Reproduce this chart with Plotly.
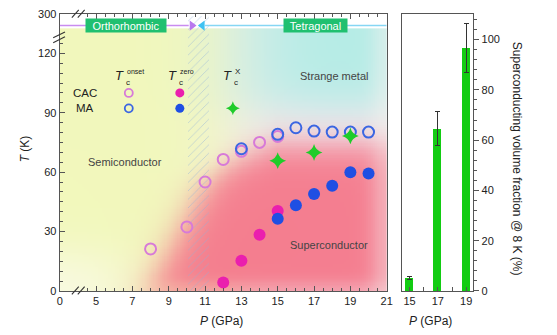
import numpy as np
import plotly.graph_objects as go

W, H = 557, 335

# ---------------- data ----------------
# CAC: onset (open) and zero-resistance (filled) Tc
p_onset_cac = [8, 10, 11, 12, 13, 14, 15]
t_onset_cac = [21.2, 32.3, 55.0, 66.4, 70.5, 75.0, 78.0]
p_zero_cac = [12, 13, 14, 15]
t_zero_cac = [4.3, 15.2, 28.4, 40.4]
# MA: onset (open) and zero-resistance (filled) Tc
p_onset_ma = [13, 15, 16, 17, 18, 19, 20]
t_onset_ma = [71.8, 79.1, 82.4, 80.7, 80.2, 80.2, 80.2]
p_zero_ma = [15, 16, 17, 18, 19, 20]
t_zero_ma = [36.5, 43.3, 49.0, 53.1, 59.9, 59.3]
# Tc^X
p_tcx = [15, 17, 19]
t_tcx = [65.8, 69.9, 78.3]

# superconducting volume fraction at 8 K
p_frac = [15, 17, 19]
frac = [5.2, 64.6, 96.8]
frac_err = [0.6, 6.6, 9.8]

# axis tick labels (the lowest P and highest T are broken-axis labels)
x_tickvals = [3, 5, 7, 9, 11, 13, 15, 17, 19, 21]
x_ticktext = ["0", "5", "7", "9", "11", "13", "15", "17", "19", "21"]
y_tickvals = [0, 30, 60, 90, 120, 140]
y_ticktext = ["0", "30", "60", "90", "120", "300"]
frac_tickvals = [0, 20, 40, 60, 80, 100]

# colours
C_ONSET_CAC = "#d77ad8"
C_ONSET_MA = "#3b66e2"
C_ZERO_CAC = "#ea1fae"
C_ZERO_MA = "#1f4fe3"
C_X = "#1fcc2a"
C_BAR = "#12cc12"
C_LABEL = "#20c070"
AX = "#555555"

P0, P1, T0, T1 = 3.0, 21.0, 0.0, 140.0


def paper(x, y):
    return x / W, 1 - y / H


# ---------------- phase-diagram background ----------------
nP, nT = 150, 112
Pg = np.linspace(P0, P1, nP)
Tg = np.linspace(0, 132, nT)
PP, TT = np.meshgrid(Pg, Tg)


def sig(z):
    return 1 / (1 + np.exp(-z))


yellow = np.array([242, 248, 188.0])
pale = np.array([251, 251, 236.0])
lav = np.array([242, 236, 242.0])
teal = np.array([170, 236, 228.0])
red = np.array([245, 122, 140.0])

w_y = sig((12.5 - PP) / 1.2)
base = w_y[..., None] * yellow + (1 - w_y[..., None]) * lav
w_pale = 0.85 * sig((18 - TT) / 7) * sig((6.5 - PP) / 1.3) + 0.35 * sig((PP - 20.2) / 0.35)
base = base * (1 - w_pale[..., None]) + pale * w_pale[..., None]

a_t = 0.85 * sig((TT - 92) / 6.5) * sig((PP - 13.4) / 1.4) * (1 - 0.55 * sig((PP - 20.3) / 0.3))
img = base * (1 - a_t[..., None]) + teal * a_t[..., None]

edge = 7.9 + 0.058 * TT
top = 60 + 14 * np.clip((PP - 11) / 4, 0, 1)
a_r = 0.96 * sig((PP - edge) / 0.6) * sig((top - TT) / 5)
a_r *= (1 - 0.45 * sig((PP - 20.3) / 0.3)) * (1 - 0.35 * sig((4 - TT) / 2))
img = img * (1 - a_r[..., None]) + red * a_r[..., None]
img = np.clip(img, 0, 255).astype(np.uint8)

dP = Pg[1] - Pg[0]
dT = Tg[1] - Tg[0]

fig = go.Figure()

fig.add_trace(go.Image(z=img, x0=P0, dx=dP, y0=0, dy=dT, zsmooth="fast",
                       hoverinfo="skip", xaxis="x", yaxis="y"))

# hatched structural-transition window
fig.add_trace(go.Bar(x=[10.63], y=[139], base=[0], width=[1.15],
                     marker=dict(color="rgba(0,0,0,0)", line=dict(width=0),
                                 pattern=dict(shape="/", fgcolor="#8fb2da",
                                              bgcolor="rgba(0,0,0,0)",
                                              size=6, solidity=0.14)),
                     hoverinfo="skip", showlegend=False, xaxis="x", yaxis="y"))

# phase line arrows at the top of the diagram
fig.add_trace(go.Scatter(x=[10.28], y=[134], mode="markers",
                         marker=dict(symbol="triangle-right", size=9, color="#b978ee"),
                         hoverinfo="skip", showlegend=False))
fig.add_trace(go.Scatter(x=[10.85], y=[134], mode="markers",
                         marker=dict(symbol="triangle-left", size=9, color="#3fc2f2"),
                         hoverinfo="skip", showlegend=False))

# data markers
fig.add_trace(go.Scatter(x=p_onset_cac, y=t_onset_cac, mode="markers",
                         marker=dict(symbol="circle-open", size=11, color=C_ONSET_CAC,
                                     line=dict(width=2)), showlegend=False))
fig.add_trace(go.Scatter(x=p_zero_cac, y=t_zero_cac, mode="markers",
                         marker=dict(symbol="circle", size=12, color=C_ZERO_CAC),
                         showlegend=False))
fig.add_trace(go.Scatter(x=p_onset_ma, y=t_onset_ma, mode="markers",
                         marker=dict(symbol="circle-open", size=11, color=C_ONSET_MA,
                                     line=dict(width=2)), showlegend=False))
fig.add_trace(go.Scatter(x=p_zero_ma, y=t_zero_ma, mode="markers",
                         marker=dict(symbol="circle", size=12, color=C_ZERO_MA),
                         showlegend=False))
fig.add_trace(go.Scatter(x=p_tcx, y=t_tcx, mode="markers",
                         marker=dict(symbol="star-diamond", size=12, color=C_X),
                         showlegend=False))

# in-plot key
key_p = [6.8, 9.61, 12.53]
key_t = [100.0, 92.2]
fig.add_trace(go.Scatter(x=[key_p[0]], y=[key_t[0]], mode="markers",
                         marker=dict(symbol="circle-open", size=8, color=C_ONSET_CAC,
                                     line=dict(width=1.8)), showlegend=False))
fig.add_trace(go.Scatter(x=[key_p[0]], y=[key_t[1]], mode="markers",
                         marker=dict(symbol="circle-open", size=8, color=C_ONSET_MA,
                                     line=dict(width=1.8)), showlegend=False))
fig.add_trace(go.Scatter(x=[key_p[1]], y=[key_t[0]], mode="markers",
                         marker=dict(symbol="circle", size=9, color=C_ZERO_CAC),
                         showlegend=False))
fig.add_trace(go.Scatter(x=[key_p[1]], y=[key_t[1]], mode="markers",
                         marker=dict(symbol="circle", size=9, color=C_ZERO_MA),
                         showlegend=False))
fig.add_trace(go.Scatter(x=[key_p[2]], y=[key_t[1]], mode="markers",
                         marker=dict(symbol="star-diamond", size=10, color=C_X),
                         showlegend=False))

# volume fraction bars
fig.add_trace(go.Bar(x=p_frac, y=frac, width=0.56, marker=dict(color=C_BAR, line=dict(width=0)),
                     error_y=dict(type="data", array=frac_err, color="#333333",
                                  thickness=1, width=2.5),
                     showlegend=False, xaxis="x2", yaxis="y2"))

font = dict(family="Liberation Sans, Arial, sans-serif", size=11, color="#222222")
ydom = [(H - 295.5) / H, (H - 8) / H]

fig.update_layout(
    width=W, height=H, margin=dict(l=0, r=0, t=0, b=0),
    paper_bgcolor="white", plot_bgcolor="white", font=font,
    bargap=0,
    xaxis=dict(domain=[57.7 / W, 390 / W], range=[P0, P1], anchor="y",
               tickmode="array", tickvals=x_tickvals, ticktext=x_ticktext,
               ticks="inside", ticklen=5, tickcolor=AX, tickwidth=1,
               minor=dict(tickmode="array", tickvals=list(np.arange(4.5, 21, 0.5)),
                          ticks="inside", ticklen=3, tickcolor=AX),
               showline=True, linecolor=AX, linewidth=1.2, mirror="ticks",
               showgrid=False, zeroline=False),
    yaxis=dict(domain=ydom, range=[T0, T1], anchor="x", scaleanchor=False,
               tickmode="array", tickvals=y_tickvals, ticktext=y_ticktext,
               ticks="inside", ticklen=5, tickcolor=AX, tickwidth=1,
               minor=dict(tickmode="array",
                          tickvals=[v for v in range(5, 130, 5) if v % 30 != 0],
                          ticks="inside", ticklen=3, tickcolor=AX),
               showline=True, linecolor=AX, linewidth=1.2, mirror=True,
               showgrid=False, zeroline=False),
    xaxis2=dict(domain=[406 / W, 478 / W], range=[14.5, 19.5], anchor="y2",
                tickmode="array", tickvals=p_frac,
                ticks="inside", ticklen=4, tickcolor=AX,
                minor=dict(tickmode="array", tickvals=[16, 18], ticks="inside",
                           ticklen=4, tickcolor=AX),
                showline=True, linecolor=AX, linewidth=1.2, mirror=True,
                showgrid=False, zeroline=False),
    yaxis2=dict(domain=ydom, range=[0, 110.3], anchor="x2", side="right",
                tickmode="array", tickvals=frac_tickvals,
                ticks="outside", ticklen=5, tickcolor=AX,
                minor=dict(dtick=4, ticks="outside", ticklen=3, tickcolor=AX),
                showline=True, linecolor=AX, linewidth=1.2, mirror=True,
                showgrid=False, zeroline=False),
)

shapes = []
# phase line at the top of the diagram
shapes.append(dict(type="line", xref="x", yref="y", x0=P0, x1=10.1, y0=134, y1=134,
                   line=dict(color="#c98cf0", width=1.5)))
shapes.append(dict(type="line", xref="x", yref="y", x0=11.0, x1=P1, y0=134, y1=134,
                   line=dict(color="#86d6f4", width=1.5)))
# axis-break marks
for (xa, ya, xb, yb) in [(70, 299, 77, 291), (76, 299, 83, 291),
                         (70, 12, 77, 4), (76, 12, 83, 4),
                         (51, 38, 63, 32), (51, 33, 63, 27)]:
    x0, y0 = paper(xa, ya)
    x1, y1 = paper(xb, yb)
    shapes.append(dict(type="line", xref="paper", yref="paper", x0=x0, y0=y0, x1=x1, y1=y1,
                       line=dict(color="#333333", width=1.1)))
fig.update_layout(shapes=shapes)

ann = []


def txt(x, y, s, size=11, color="#444444", xref="x", yref="y", **kw):
    kw.setdefault("xanchor", "center")
    kw.setdefault("yanchor", "middle")
    ann.append(dict(x=x, y=y, xref=xref, yref=yref, text=s, showarrow=False,
                    font=dict(family="Liberation Sans, Arial, sans-serif", size=size, color=color),
                    **kw))


# phase labels
txt(6.66, 134, "Orthorhombic", 11, "white", bgcolor=C_LABEL, width=80, height=13, borderpad=0)
txt(17.1, 134, "Tetragonal", 11, "white", bgcolor=C_LABEL, width=63, height=13, borderpad=0)
txt(6.58, 65, "Semiconductor", 11)
txt(18.08, 108.5, "Strange metal", 11)
txt(17.81, 23, "Superconductor", 11)

# key labels
txt(4.37, 100, "CAC", 11.5, "#222222")
txt(4.37, 92.2, "MA", 11.5, "#222222")
for (pt, sup) in [(6.28, "onset"), (9.18, "zero"), (12.21, "X")]:
    txt(pt, 108.8, "<i>T</i>", 13, "#222222")
    txt(pt + 0.28, 105.2, "c", 8, "#222222", xanchor="left")
    txt(pt + 0.33, 110.6, sup, 7 if sup != "X" else 8, "#222222", xanchor="left")

# axis titles
ax_font = 12
x, y = paper(22, 148)
txt(x, y, "<i>T</i> (K)", ax_font, "#222222", xref="paper", yref="paper", textangle=-90)
x, y = paper(222, 327)
txt(x, y, "<i>P</i> (GPa)", ax_font, "#222222", xref="paper", yref="paper")
x, y = paper(435, 327)
txt(x, y, "<i>P</i> (GPa)", ax_font, "#222222", xref="paper", yref="paper")
x, y = paper(522, 158)
txt(x, y, "Superconducting volume fraction @ 8 K (%)", ax_font, "#222222",
    xref="paper", yref="paper", textangle=90)

fig.update_layout(annotations=ann)

fig.write_html("out.html")
